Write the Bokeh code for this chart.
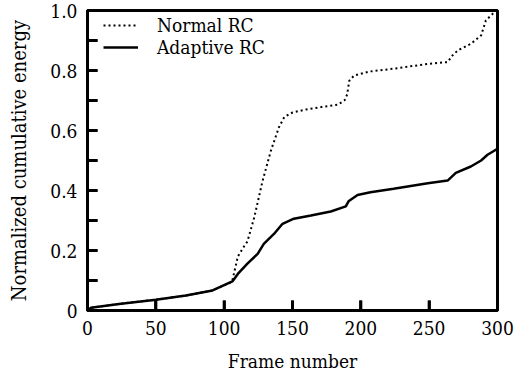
from bokeh.plotting import figure
from bokeh.models import Range1d, FixedTicker, Legend, LegendItem
from bokeh.embed import file_html
from bokeh.resources import INLINE

# ---- data ----
normal_x = [0, 2.5, 23, 50, 72, 91.5, 105, 106, 110, 114, 117, 122, 128, 134, 140, 144,
            150, 160, 171, 183, 188, 190, 191.5, 195, 200, 207, 224, 249, 263.5, 267,
            271, 280.5, 288, 291.5, 297.6, 300]
normal_y = [0, 0.009, 0.022, 0.036, 0.05, 0.067, 0.094, 0.1, 0.18, 0.21, 0.23, 0.31, 0.43,
            0.53, 0.61, 0.645, 0.66, 0.67, 0.678, 0.686, 0.70, 0.72, 0.765, 0.783, 0.789,
            0.797, 0.806, 0.822, 0.828, 0.85, 0.867, 0.889, 0.917, 0.967, 0.994, 1.0]

adaptive_x = [0, 2.5, 23, 50, 72, 91.5, 106, 110, 117, 124.5, 129, 136.6, 142.7, 151, 163.5,
              178, 189, 191, 197.6, 207, 224, 249, 263.5, 269.5, 280.5, 288, 292.7, 298.8, 300]
adaptive_y = [0, 0.009, 0.022, 0.036, 0.05, 0.067, 0.097, 0.122, 0.156, 0.189, 0.222, 0.256,
              0.289, 0.306, 0.317, 0.33, 0.347, 0.364, 0.385, 0.394, 0.406, 0.424, 0.433,
              0.459, 0.48, 0.5, 0.519, 0.536, 0.54]

x_ticks = [0, 50, 100, 150, 200, 250, 300]
y_ticks = [0, 0.2, 0.4, 0.6, 0.8, 1.0]
y_minor_ticks = [0.1, 0.3, 0.5, 0.7, 0.9]
y_tick_labels = {0: "0", 0.2: "0.2", 0.4: "0.4", 0.6: "0.6", 0.8: "0.8", 1.0: "1.0"}
x_start, x_end = 0, 300
y_start, y_end = 0, 1.0

FONT = "DejaVu Serif Condensed"
FRAME_W, FRAME_H, TICK_PX = 410, 300, 10
tick_dy = (y_end - y_start) * TICK_PX / FRAME_H
tick_dx = (x_end - x_start) * TICK_PX / FRAME_W

p = figure(width=516, height=374, output_backend="svg", toolbar_location=None,
           x_range=Range1d(x_start, x_end), y_range=Range1d(y_start, y_end),
           min_border_left=87, min_border_right=19, min_border_top=10, min_border_bottom=64)

p.xgrid.visible = False
p.ygrid.visible = False
p.outline_line_color = "black"
p.outline_line_width = 3
p.background_fill_color = "white"
p.border_fill_color = "white"

r_normal = p.line(normal_x, normal_y, line_color="black", line_width=2, line_dash="2 3")
r_adapt = p.line(adaptive_x, adaptive_y, line_color="black", line_width=2.5)

# inward tick marks as short segments from the axes, drawn above everything
p.segment(x0=x_ticks, y0=[y_start] * len(x_ticks), x1=x_ticks,
          y1=[y_start + tick_dy] * len(x_ticks), line_color="black", line_width=3,
          level="overlay")
all_y = y_ticks + y_minor_ticks
p.segment(x0=[x_start] * len(all_y), y0=all_y, x1=[x_start + tick_dx] * len(all_y),
          y1=all_y, line_color="black", line_width=3, level="overlay")

for ax in (p.xaxis[0], p.yaxis[0]):
    ax.axis_line_width = 3
    ax.axis_line_color = "black"
    ax.major_tick_in = 10
    ax.major_tick_out = 0
    ax.minor_tick_in = 10
    ax.minor_tick_out = 0
    ax.major_tick_line_color = "black"
    ax.minor_tick_line_color = "black"
    ax.major_tick_line_width = 2.5
    ax.minor_tick_line_width = 2.5
    ax.major_label_text_font = FONT
    ax.major_label_text_font_size = "19px"
    ax.major_label_text_color = "black"
    ax.axis_label_text_font = FONT
    ax.axis_label_text_font_size = "19px"
    ax.axis_label_text_font_style = "normal"
    ax.axis_label_text_color = "black"
    ax.major_label_standoff = 10

p.xaxis[0].ticker = FixedTicker(ticks=x_ticks, minor_ticks=[])
p.yaxis[0].ticker = FixedTicker(ticks=y_ticks, minor_ticks=y_minor_ticks)
p.yaxis[0].major_label_overrides = y_tick_labels
p.xaxis[0].axis_label = "Frame number"
p.yaxis[0].axis_label = "Normalized cumulative energy"
p.yaxis[0].axis_label_text_font_size = "20px"
p.xaxis[0].axis_label_standoff = 12
p.yaxis[0].axis_label_standoff = 16

legend = Legend(items=[LegendItem(label="Normal RC", renderers=[r_normal]),
                       LegendItem(label="Adaptive RC", renderers=[r_adapt])],
                location=(16, 252), padding=0, margin=0, spacing=0,
                glyph_width=35, glyph_height=20, label_height=20, label_standoff=19,
                label_text_font=FONT, label_text_font_size="19px", label_text_color="black",
                border_line_color=None, background_fill_alpha=0)
p.add_layout(legend)

open("out.html", "w").write(file_html(p, INLINE))
